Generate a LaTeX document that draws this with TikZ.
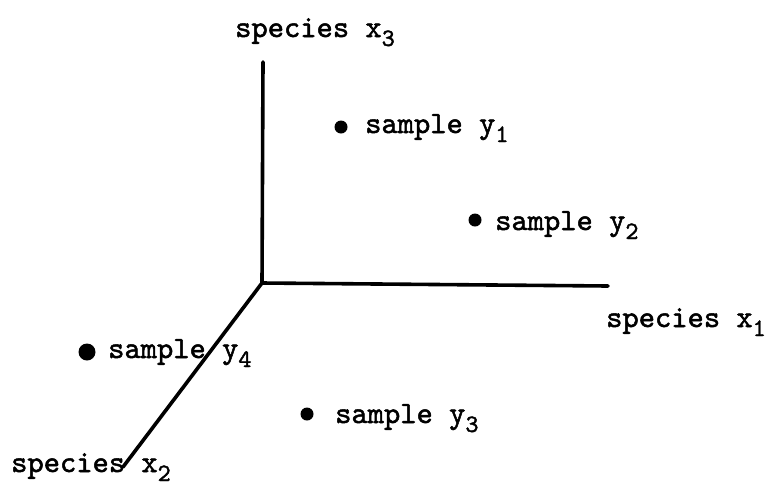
\documentclass[tikz,border=0pt]{standalone}
\usepackage{fontspec}
\newfontfamily\twfont{lmmono10-regular.otf}[FakeBold=1.6]
\newcommand\mysubidx[1]{\raisebox{-9pt}{\fontsize{25}{25}\selectfont #1}}
\begin{document}
\begin{tikzpicture}[x=1pt,y=-1pt,
  axis/.style={line width=3.6pt,line cap=round},
  lbl/.style={anchor=base west,inner sep=0pt,font=\twfont\fontsize{31}{31}\selectfont},
  sdot/.style={circle,fill=black,inner sep=0pt,minimum size=13pt}]
\useasboundingbox (0,0) rectangle (773,496);
\coordinate (O) at (262,283);
\coordinate (T) at (263,62);
\coordinate (R) at (608,286);
\coordinate (B) at (123,467);
\draw[axis] (O) -- (T);
\draw[axis] (O) -- (R);
\draw[axis] (O) -- (B);
\node[lbl] (lx3) at (235,37) {species x\mysubidx{3}};
\node[lbl] (lx1) at (606,327) {species x\mysubidx{1}};
\node[lbl] (lx2) at (11,472) {species x\mysubidx{2}};
\node[sdot] (d1) at (341,127) {};
\node[lbl] (ly1) at (365,133) {sample y\mysubidx{1}};
\node[sdot] (d2) at (475,220) {};
\node[lbl] (ly2) at (495,230) {sample y\mysubidx{2}};
\node[sdot] (d3) at (307,414) {};
\node[lbl] (ly3) at (335,423) {sample y\mysubidx{3}};
\node[sdot,minimum size=17pt] (d4) at (87,352) {};
\node[lbl] (ly4) at (108,358) {sample y\mysubidx{4}};
\end{tikzpicture}
\end{document}
